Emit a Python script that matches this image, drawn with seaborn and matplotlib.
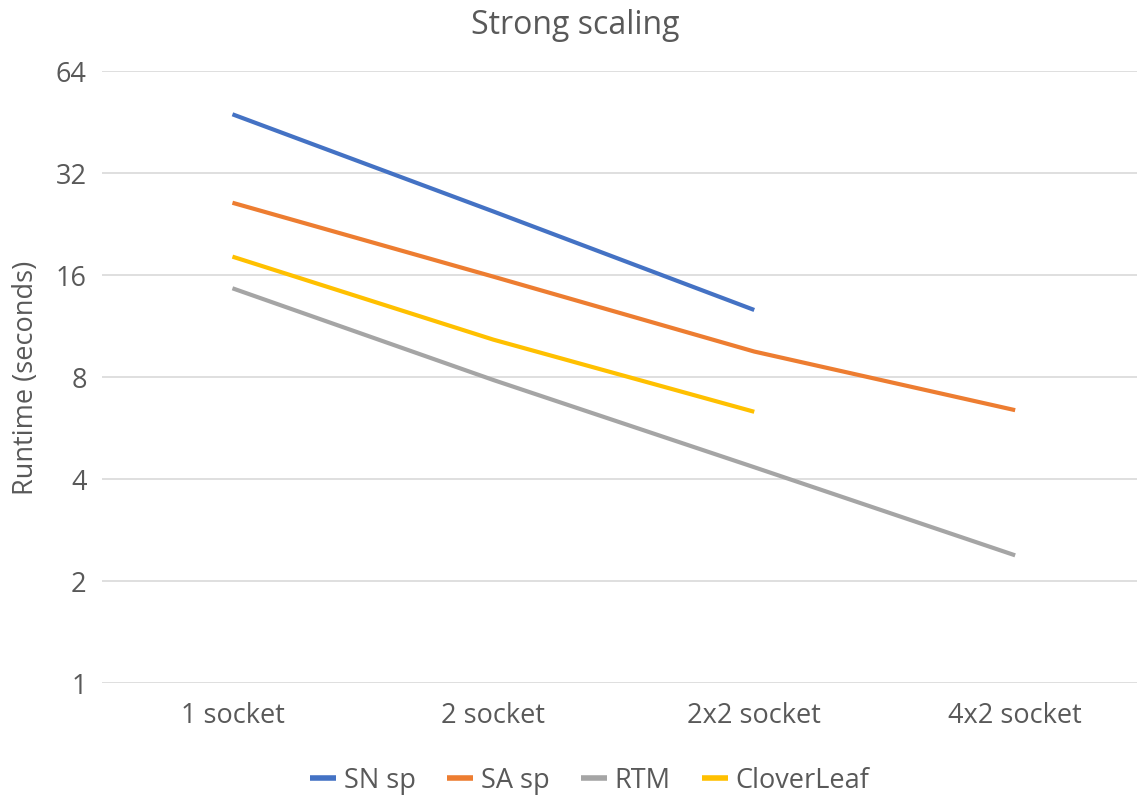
import numpy as np
import pandas as pd
import matplotlib
matplotlib.use("Agg")
import matplotlib.pyplot as plt
import seaborn as sns

configs = ["1 socket", "2 socket", "2x2 socket", "4x2 socket"]
sn_sp = [47.6, 24.6, 12.6, np.nan]
sa_sp = [26.1, 15.8, 9.5, 6.38]
rtm = [14.6, 7.83, 4.33, 2.38]
cloverleaf = [18.1, 10.3, 6.31, np.nan]

series_names = ["SN sp", "SA sp", "RTM", "CloverLeaf"]
series_values = [sn_sp, sa_sp, rtm, cloverleaf]
colors = ["#4472C4", "#ED7D31", "#A5A5A5", "#FFC000"]
y_ticks = [1, 2, 4, 8, 16, 32, 64]

rows = []
for name, vals in zip(series_names, series_values):
    for cfg, v in zip(configs, vals):
        if not np.isnan(v):
            rows.append({"config": cfg, "runtime": v, "app": name})
df = pd.DataFrame(rows)

sns.set_theme(style="white")
plt.rcParams["font.family"] = ["Open Sans", "DejaVu Sans"]
text_color = "#595959"
fs = 19.5

fig = plt.figure(figsize=(11.37, 8.04), dpi=100)
ax = fig.add_axes([102 / 1137, 1 - 684 / 804, (1137 - 102) / 1137, (684 - 71.7) / 804])

sns.lineplot(
    data=df, x="config", y="runtime", hue="app",
    hue_order=series_names, palette=colors,
    linewidth=3.0, sort=False, errorbar=None, ax=ax,
    solid_capstyle="butt", legend=True,
)

ax.set_yscale("log", base=2)
ax.set_ylim(1, 64)
ax.set_yticks(y_ticks)
ax.set_yticklabels([str(t) for t in y_ticks])
ax.yaxis.set_minor_locator(matplotlib.ticker.NullLocator())
ax.set_xlim(-0.5, 3.467)
ax.set_xticks(range(len(configs)))
ax.set_xticklabels(configs)

ax.grid(axis="y", color="#D9D9D9", linewidth=1.2)
ax.set_axisbelow(True)
for s in ax.spines.values():
    s.set_visible(False)
ax.tick_params(axis="both", length=0, labelsize=fs, colors=text_color)
ax.tick_params(axis="y", pad=11)
ax.tick_params(axis="x", pad=13)

ax.set_xlabel("")
ax.set_ylabel("Runtime (seconds)", fontsize=fs, color=text_color)
ax.yaxis.set_label_coords(-62 / 1035, 0.5)

fig.text(575 / 1137, 1 - 25 / 804, "Strong scaling", ha="center", va="center",
         fontsize=23, color=text_color)

handles, labels = ax.get_legend_handles_labels()
ax.get_legend().remove()
leg = fig.legend(handles, labels, loc="center", bbox_to_anchor=(590 / 1137, 1 - 781 / 804),
                 ncol=4, frameon=False, fontsize=fs, handlelength=0.95,
                 handletextpad=0.3, columnspacing=1.15)
for t in leg.get_texts():
    t.set_color(text_color)
for h in leg.get_lines():
    h.set_linewidth(4)

fig.savefig("out.png", dpi=100)
